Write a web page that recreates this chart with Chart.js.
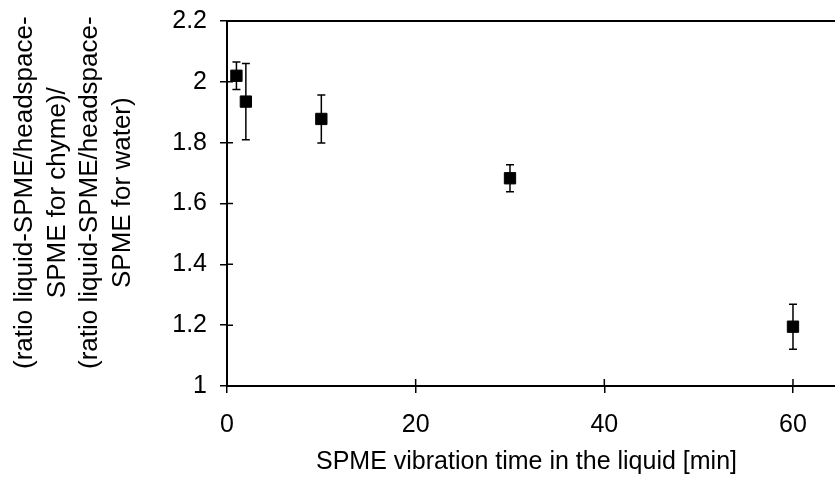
<!DOCTYPE html>
<html>
<head>
<meta charset="utf-8">
<script src="https://cdn.jsdelivr.net/npm/chart.js@4/dist/chart.umd.min.js"></script>
<style>
  body { margin: 0; background: #fff; }
  #wrap { width: 835px; height: 479px; }
</style>
</head>
<body>
<div id="wrap"><canvas id="mycanvas"></canvas></div>
<script>
var times = [1, 2, 10, 30, 60];
var ratios = [2.02, 1.935, 1.878, 1.683, 1.195];
var errors = [0.045, 0.125, 0.079, 0.044, 0.074];
var xTicks = [0, 20, 40, 60];
// leading spaces nudge the rotated title a little upward, as in the original
var yTitle = ['   (ratio liquid-SPME/headspace-', '   SPME for chyme)/', '   (ratio liquid-SPME/headspace-', '   SPME for water)'];
var xTitle = 'SPME vibration time in the liquid [min]';

var points = times.map(function(t, i){ return {x: t, y: ratios[i]} });

function noPadding(){ return {left: 0, top: 0, right: 0, bottom: 0} }

// error bars + ticks crossing the axes + top border
var extras = {
    id: 'extras',
    afterDatasetsDraw: function(chart){
        var ctx = chart.ctx
        var xs = chart.scales.x, ys = chart.scales.y
        var area = chart.chartArea
        ctx.save()
        ctx.strokeStyle = '#000'
        ctx.lineWidth = 1.5
        ctx.beginPath()
        times.forEach(function(t, i){
            var px = xs.getPixelForValue(t)
            var top = ys.getPixelForValue(ratios[i] + errors[i])
            var bot = ys.getPixelForValue(ratios[i] - errors[i])
            ctx.moveTo(px, top); ctx.lineTo(px, bot)
            ctx.moveTo(px - 4, top); ctx.lineTo(px + 4, top)
            ctx.moveTo(px - 4, bot); ctx.lineTo(px + 4, bot)
        })
        // inner halves of the ticks
        xTicks.forEach(function(v){
            var px = xs.getPixelForValue(v)
            ctx.moveTo(px, area.bottom); ctx.lineTo(px, area.bottom - 7)
        })
        ys.ticks.forEach(function(t){
            var py = ys.getPixelForValue(t.value)
            ctx.moveTo(area.left, py); ctx.lineTo(area.left + 6, py)
        })
        ctx.stroke()
        // frame lines run on to the right edge of the picture
        ctx.lineWidth = 2
        ctx.beginPath()
        ctx.moveTo(area.left, area.top); ctx.lineTo(chart.width, area.top)
        ctx.moveTo(area.right - 1, area.bottom); ctx.lineTo(chart.width, area.bottom)
        ctx.stroke()
        ctx.restore()
    }
}

var tickFont = { family: 'Liberation Sans', size: 25 }

var context = document.getElementById('mycanvas').getContext('2d')
new Chart(context, {
    type: 'scatter',
    data: {
        datasets: [{
            data: points,
            pointStyle: 'rect',
            pointRadius: 8,
            pointHoverRadius: 8,
            pointBackgroundColor: '#000',
            pointBorderColor: '#000',
            pointBorderWidth: 1
        }]
    },
    options: {
        responsive: true,
        maintainAspectRatio: false,
        animation: false,
        events: [],
        layout: { padding: { top: 21, right: 0, left: 0, bottom: 0 } },
        plugins: { legend: { display: false }, tooltip: { enabled: false } },
        scales: {
            x: {
                type: 'linear',
                min: 0,
                max: 63.5,
                afterBuildTicks: function(scale){
                    scale.ticks = xTicks.map(function(v){ return {value: v} })
                },
                afterFit: function(scale){
                    scale.height = 93
                    scale.getPadding = noPadding
                },
                grid: { drawOnChartArea: false, color: '#000', lineWidth: 1.5, tickLength: 7 },
                border: { color: '#000', width: 2 },
                ticks: { color: '#000', font: tickFont, padding: 17, maxRotation: 0 },
                title: { display: true, text: xTitle, color: '#000', font: tickFont, padding: { top: 0, bottom: 2 } }
            },
            y: {
                min: 1,
                max: 2.2,
                afterFit: function(scale){
                    scale.width = 227
                    scale.getPadding = noPadding
                },
                grid: { drawOnChartArea: false, color: '#000', lineWidth: 1.5, tickLength: 7 },
                border: { color: '#000', width: 2 },
                ticks: { stepSize: 0.2, color: '#000', font: tickFont, padding: 13,
                    callback: function(v){ return Math.round(v * 10) / 10 } },
                title: { display: true, text: yTitle, color: '#000', font: { family: 'Liberation Sans', size: 26, lineHeight: 1.25 }, padding: { top: 9, bottom: 0 } }
            }
        }
    },
    plugins: [extras]
})
</script>
</body>
</html>
